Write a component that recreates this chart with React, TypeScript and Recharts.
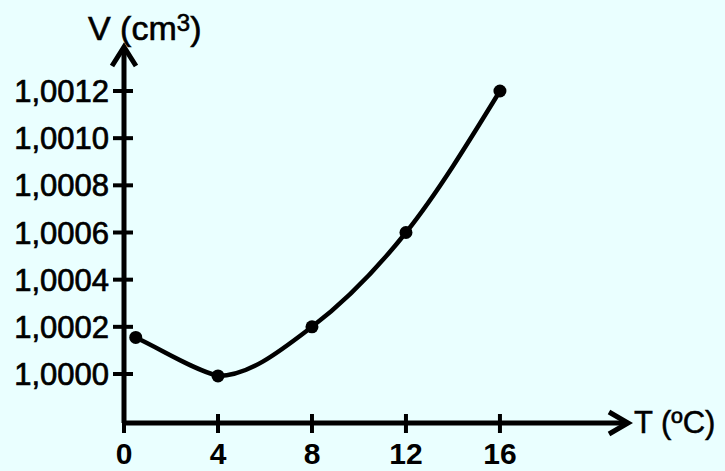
import React from "react";
import { LineChart, Line, XAxis, YAxis, ReferenceDot } from "recharts";

// Data
const temperatures = [0.5, 4, 8, 12, 16];
const volumes = [1.000155, 0.999992, 1.0002, 1.0006, 1.0012];

const xTicks = [0, 4, 8, 12, 16];
const xTickLabels = ["0", "4", "8", "12", "16"];
const yTicks = [1.0, 1.0002, 1.0004, 1.0006, 1.0008, 1.001, 1.0012];
const yTickLabels = ["1,0000", "1,0002", "1,0004", "1,0006", "1,0008", "1,0010", "1,0012"];

const X_MAX = 21.45;
const Y_MIN = 0.9997922;
const Y_MAX = 1.0013866;

const data = temperatures.map((t, i) => ({ t, v: volumes[i] }));

const FONT = "'Liberation Sans', Arial, sans-serif";
const BG = "#eaffff";

// Curve: nearly straight first segment, then a monotone cubic (hand-drawn look of the original)
const sign = (v: number) => (v < 0 ? -1 : 1);
const smoothCurve = (context: any) => {
  let xs: number[] = [];
  let ys: number[] = [];
  return {
    areaStart() {},
    areaEnd() {},
    lineStart() {
      xs = [];
      ys = [];
    },
    point(x: number, y: number) {
      xs.push(+x);
      ys.push(+y);
    },
    lineEnd() {
      const n = xs.length;
      if (n === 0) return;
      context.moveTo(xs[0], ys[0]);
      if (n === 1) return;
      const h: number[] = [];
      const s: number[] = [];
      for (let i = 0; i < n - 1; i++) {
        h.push(xs[i + 1] - xs[i]);
        s.push((ys[i + 1] - ys[i]) / (xs[i + 1] - xs[i]));
      }
      const t: number[] = new Array(n).fill(0);
      for (let i = 1; i < n - 1; i++) {
        const s0 = s[i - 1];
        const s1 = s[i];
        const p = (s0 * h[i] + s1 * h[i - 1]) / (h[i - 1] + h[i]);
        t[i] = (sign(s0) + sign(s1)) * Math.min(Math.abs(s0), Math.abs(s1), 0.5 * Math.abs(p)) || 0;
      }
      t[n - 1] = n > 2 ? (3 * s[n - 2] - t[n - 2]) / 2 : s[0];
      for (let i = 0; i < n - 1; i++) {
        const dx = h[i] / 3;
        const tStart = i === 0 ? s[0] : t[i];
        const tEnd = i === 0 && n > 2 ? 0.6 * s[0] : t[i + 1];
        context.bezierCurveTo(
          xs[i] + dx,
          ys[i] + dx * tStart,
          xs[i + 1] - dx,
          ys[i + 1] - dx * tEnd,
          xs[i + 1],
          ys[i + 1]
        );
      }
    },
  };
};

const YTick = (props: any) => {
  const { x, y, payload } = props;
  const idx = yTicks.findIndex((v) => Math.abs(v - payload.value) < 1e-9);
  const label = idx >= 0 ? yTickLabels[idx] : String(payload.value);
  return (
    <g>
      <line x1={x - 11} x2={x + 9} y1={y} y2={y} stroke="#000" strokeWidth={4} />
      <text
        x={x - 15}
        y={y + 11}
        textAnchor="end"
        fontFamily={FONT}
        fontSize={31}
        fill="#000"
        stroke="#000"
        strokeWidth={0.7}
      >
        {label}
      </text>
    </g>
  );
};

const XTick = (props: any) => {
  const { x, y, payload } = props;
  const idx = xTicks.findIndex((v) => v === payload.value);
  const label = idx >= 0 ? xTickLabels[idx] : String(payload.value);
  return (
    <g>
      <line x1={x} x2={x} y1={y - 9} y2={y + 10} stroke="#000" strokeWidth={4} />
      <text
        x={x}
        y={y + 41}
        textAnchor="middle"
        fontFamily={FONT}
        fontSize={30}
        fontWeight="bold"
        fill="#000"
      >
        {label}
      </text>
    </g>
  );
};

const UpArrow = (props: any) => {
  const { cx, cy } = props;
  return (
    <polyline
      points={`${cx - 12},${cy + 19} ${cx},${cy} ${cx + 12},${cy + 19}`}
      fill="none"
      stroke="#000"
      strokeWidth={5}
      strokeLinejoin="miter"
    />
  );
};

const RightArrow = (props: any) => {
  const { cx, cy } = props;
  return (
    <polyline
      points={`${cx - 19},${cy - 11} ${cx},${cy} ${cx - 19},${cy + 11}`}
      fill="none"
      stroke="#000"
      strokeWidth={5}
      strokeLinejoin="miter"
    />
  );
};

const YTitle = (props: any) => {
  const vb = props.viewBox || { x: 0, y: 47 };
  return (
    <text
      x={88}
      y={vb.y - 7}
      fontFamily={FONT}
      fontSize={34}
      fill="#000"
      stroke="#000"
      strokeWidth={0.6}
    >
      V (cm
      <tspan fontSize={24} dy={-9}>3</tspan>
      <tspan dy={9}>)</tspan>
    </text>
  );
};

const XTitle = (props: any) => {
  const vb = props.viewBox || { x: 124, y: 423, width: 504 };
  return (
    <text
      x={vb.x + vb.width + 6}
      y={vb.y + 10}
      fontFamily={FONT}
      fontSize={31}
      fill="#000"
      stroke="#000"
      strokeWidth={0.5}
    >
      T (ºC)
    </text>
  );
};

export default function App() {
  return (
    <div style={{ position: "absolute", left: 0, top: 0, width: 725, height: 471, background: BG }}>
      <LineChart
        width={725}
        height={471}
        data={data}
        margin={{ top: 47, right: 97, left: 0, bottom: 0 }}
      >
        <XAxis
          dataKey="t"
          type="number"
          domain={[0, X_MAX]}
          allowDataOverflow
          ticks={xTicks}
          interval={0}
          height={48}
          tickSize={0}
          tickMargin={0}
          tickLine={false}
          axisLine={{ stroke: "#000", strokeWidth: 5 }}
          tick={<XTick />}
          label={<XTitle />}
        />
        <YAxis
          type="number"
          domain={[Y_MIN, Y_MAX]}
          allowDataOverflow
          ticks={yTicks}
          interval={0}
          width={124}
          tickSize={0}
          tickMargin={0}
          tickLine={false}
          axisLine={{ stroke: "#000", strokeWidth: 5 }}
          tick={<YTick />}
          label={<YTitle />}
        />
        <Line
          dataKey="v"
          type={smoothCurve as any}
          stroke="#000"
          strokeWidth={4.5}
          dot={{ r: 6.5, fill: "#000", stroke: "none" }}
          activeDot={false}
          isAnimationActive={false}
        />
        <ReferenceDot x={0} y={Y_MAX} ifOverflow="visible" shape={<UpArrow />} />
        <ReferenceDot x={X_MAX} y={Y_MIN} ifOverflow="visible" shape={<RightArrow />} />
      </LineChart>
    </div>
  );
}
